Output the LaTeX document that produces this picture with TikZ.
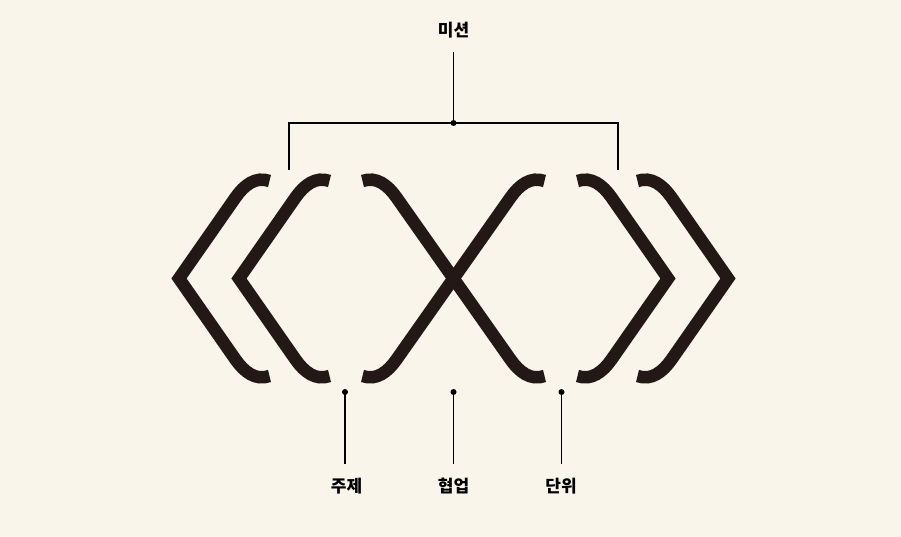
\documentclass[tikz,border=0pt]{standalone}
\usepackage{fontspec}
\newfontfamily\krfont{Noto Sans CJK KR}
\usetikzlibrary{calc}
\usetikzlibrary{positioning}
\definecolor{paper}{HTML}{F9F5EA}
\definecolor{ink}{HTML}{231815}
\tikzstyle{bracket} = [draw=ink, line width=12.5pt]
\tikzstyle{leader} = [draw=black, line width=1.2pt]
\tikzstyle{dotnode} = [circle, fill=black, inner sep=0pt, minimum size=6pt]
\tikzstyle{tagnode} = [font=\krfont\bfseries\fontsize{17}{20}\selectfont, text=black, inner sep=2pt]

\begin{document}
\begin{tikzpicture}[x=1pt, y=1pt]
\fill[paper] (-453.5,-258.5) rectangle (447.5,278.5);
\useasboundingbox (-453.5,-258.5) rectangle (447.5,278.5);

% left brackets
\draw[bracket] (-184,97.5) to[out=160,in=55] (-218,81) -- (-274.5,0) -- (-218,-81) to[out=-55,in=200] (-184,-97.5);
\draw[bracket] (-124,97.5) to[out=160,in=55] (-158,81) -- (-214.5,0) -- (-158,-81) to[out=-55,in=200] (-124,-97.5);
% crossing
\draw[bracket] (-91,97.5) to[out=20,in=125] (-57,81) -- (57,-81) to[out=-55,in=200] (91,-97.5);
\draw[bracket] (91,97.5) to[out=160,in=55] (57,81) -- (-57,-81) to[out=-125,in=-20] (-91,-97.5);
% right brackets
\draw[bracket] (124,97.5) to[out=20,in=125] (158,81) -- (214.5,0) -- (158,-81) to[out=-125,in=-20] (124,-97.5);
\draw[bracket] (184,97.5) to[out=20,in=125] (218,81) -- (274.5,0) -- (218,-81) to[out=-125,in=-20] (184,-97.5);

\node[tagnode] (mission) at (0,248.5) {미션};
\coordinate (mission_top) at (0,226.5);
\node[dotnode] (mission_dot) at (0,155.5) {};
\coordinate (left_drop) at (-164.5,108.5);
\coordinate (right_drop) at (164.5,108.5);
\draw[leader] (mission_top) -- (mission_dot.center);
\draw[leader] (left_drop) |- (mission_dot.center) -| (right_drop);

\node[dotnode] (topic_dot) at (-108.5,-113.5) {};
\node[dotnode] (collab_dot) at (0,-113.5) {};
\node[dotnode] (unit_dot) at (108,-113.5) {};
\coordinate (topic_end) at ($(topic_dot)+(0,-72)$);
\coordinate (collab_end) at ($(collab_dot)+(0,-72)$);
\coordinate (unit_end) at ($(unit_dot)+(0,-72)$);
\node[tagnode] (topic) at (-107,-207.5) {주제};
\node[tagnode] (collab) at (0,-207.5) {협업};
\node[tagnode] (unit) at (107.5,-207.5) {단위};
\draw[leader] (topic_dot.center) -- (topic_end);
\draw[leader] (collab_dot.center) -- (collab_end);
\draw[leader] (unit_dot.center) -- (unit_end);
\end{tikzpicture}
\end{document}
